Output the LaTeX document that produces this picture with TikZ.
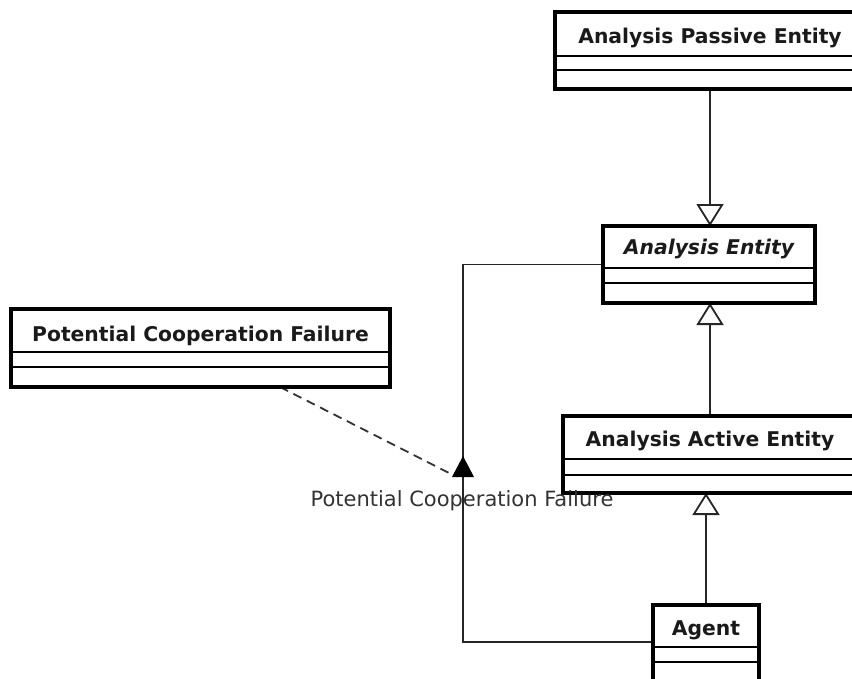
\documentclass[tikz,border=0pt]{standalone}
\usepackage{fontspec}
\setmainfont{DejaVu Sans}
\usetikzlibrary{arrows.meta,calc}
\definecolor{titlecol}{HTML}{1A1A1A}
\definecolor{labelcol}{HTML}{333333}
\begin{document}
\begin{tikzpicture}[x=1pt,y=-1pt,
  cbox/.style={draw=black, line width=3.5pt, fill=white, anchor=north west, inner sep=0pt, outer sep=0pt},
  ctitle/.style={font=\fontsize{20.3}{24}\selectfont\bfseries, text=titlecol, anchor=base, inner sep=0pt},
  div/.style={line width=1.8pt},
  conn/.style={line width=1.8pt, draw=black!85},
  gen/.style={-{Triangle[open, width=27pt, length=22pt, line width=1.8pt]}},
  dep/.style={line width=1.8pt, draw=black!80, dash pattern=on 9pt off 6pt},
  alabel/.style={font=\fontsize{21}{25}\selectfont, text=labelcol, anchor=base, inner sep=0pt}
]
\useasboundingbox (0,0) rectangle (852,678);
\clip (0,0) rectangle (852,678);
\fill[white] (0,0) rectangle (852,678);

\node[cbox, minimum width=310pt, minimum height=77pt] (pe) at (555,12) {};
\node[cbox, minimum width=212pt, minimum height=77pt] (ae) at (603,226) {};
\node[cbox, minimum width=379pt, minimum height=78pt] (pcf) at (11,309) {};
\node[cbox, minimum width=294pt, minimum height=77pt] (ac) at (563,416) {};
\node[cbox, minimum width=106pt, minimum height=84pt] (ag) at (653,605) {};

\coordinate (bend) at (463,0);
\coordinate (mk) at (463,477);
\coordinate (pcfend) at ($(pcf.south west)+(269,0)$);
\coordinate (agin) at ($(ag.north west)+(0,37)$);

\draw[conn] (ae.west) -- (ae.west -| bend) -- (agin -| bend) -- (agin);
\draw[conn, gen] (pe.south) -- (pe.south |- ae.north);
\draw[conn, gen] (ac.north) -- (ac.north |- ae.south);
\draw[conn, gen] (ag.north) -- (ag.north |- ac.south);
\draw[dep] (pcfend) -- ($(mk)+(-10,-2)$);
\fill[black] (mk) ++(-11,0) -- ++(22,0) -- ++(-11,-21) -- cycle;

\foreach \n/\a/\b in {pe/44/58, ae/42/57, pcf/43/58, ac/43/59, ag/42/57} {
  \draw[cbox] (\n.north west) rectangle (\n.south east);
  \draw[div] ($(\n.north west)+(0,\a)$) -- ($(\n.north east)+(0,\a)$);
  \draw[div] ($(\n.north west)+(0,\b)$) -- ($(\n.north east)+(0,\b)$);
}

\node[ctitle] (pet) at ($(pe.north)+(0,31)$) {Analysis Passive Entity};
\node[ctitle] (aet) at ($(ae.north)+(0,28)$) {\itshape Analysis Entity};
\node[ctitle] (pcft) at ($(pcf.north)+(0,32)$) {Potential Cooperation Failure};
\node[ctitle] (act) at ($(ac.north)+(0,30)$) {Analysis Active Entity};
\node[ctitle] (agt) at ($(ag.north)+(0,30)$) {Agent};

\node[alabel] (lbl) at (462,506) {Potential Cooperation Failure};
\end{tikzpicture}
\end{document}
